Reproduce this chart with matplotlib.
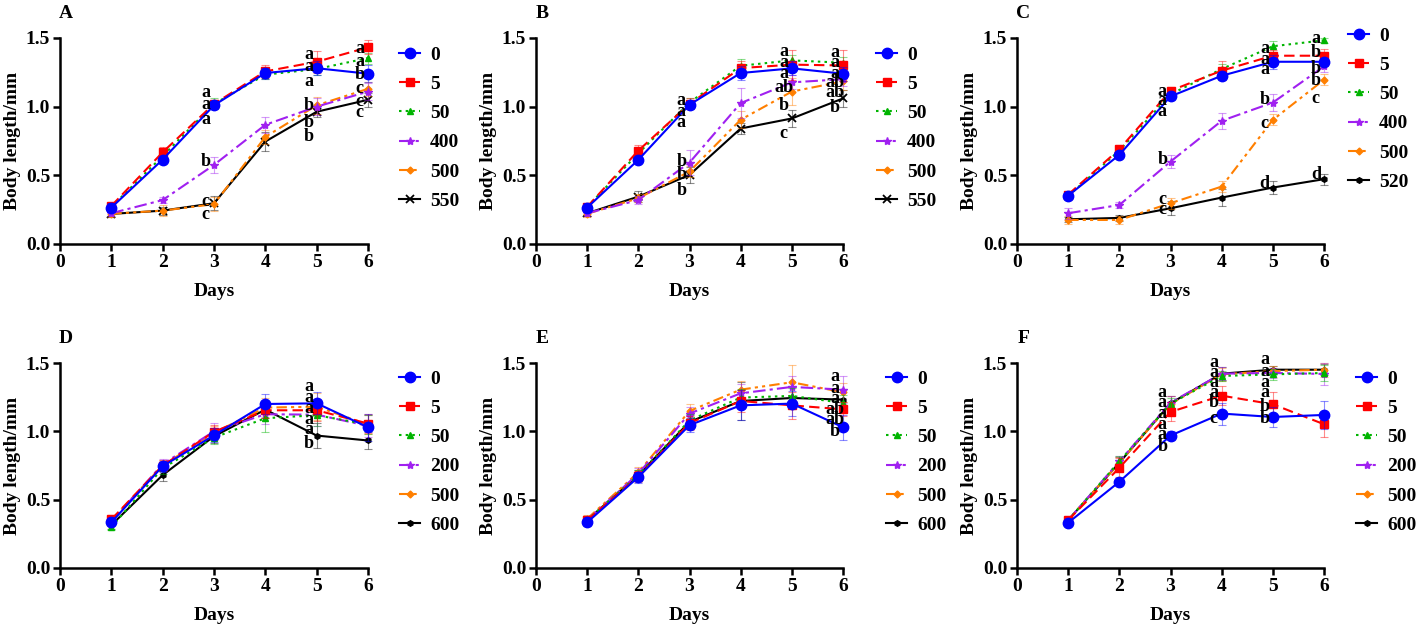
import numpy as np
import matplotlib.pyplot as plt

plt.rcParams['font.family'] = 'serif'
plt.rcParams['font.serif'] = ['Liberation Serif', 'Times New Roman', 'DejaVu Serif']
plt.rcParams['font.weight'] = 'bold'
plt.rcParams['axes.labelweight'] = 'bold'

days = [1, 2, 3, 4, 5, 6]

# concentration labels per panel
conc_A = ['0', '5', '50', '400', '500', '550']
conc_B = ['0', '5', '50', '400', '500', '550']
conc_C = ['0', '5', '50', '400', '500', '520']
conc_D = ['0', '5', '50', '200', '500', '600']
conc_E = ['0', '5', '50', '200', '500', '600']
conc_F = ['0', '5', '50', '200', '500', '600']

# mean body length (mm), one row per concentration
mean_A = [[0.265, 0.615, 1.01, 1.245, 1.28, 1.24],
          [0.277, 0.668, 1.02, 1.257, 1.327, 1.432],
          [0.27, 0.64, 1.02, 1.233, 1.274, 1.354],
          [0.224, 0.32, 0.576, 0.868, 1.0, 1.11],
          [0.22, 0.243, 0.29, 0.78, 1.01, 1.13],
          [0.219, 0.243, 0.297, 0.746, 0.963, 1.05]]
mean_B = [[0.265, 0.613, 1.014, 1.245, 1.279, 1.24],
          [0.27, 0.68, 1.02, 1.281, 1.306, 1.30],
          [0.27, 0.66, 1.03, 1.298, 1.337, 1.32],
          [0.224, 0.32, 0.593, 1.026, 1.177, 1.20],
          [0.22, 0.333, 0.528, 0.905, 1.11, 1.184],
          [0.224, 0.345, 0.503, 0.841, 0.914, 1.06]]
mean_C = [[0.352, 0.649, 1.075, 1.225, 1.327, 1.327],
          [0.36, 0.69, 1.116, 1.262, 1.371, 1.371],
          [0.35, 0.68, 1.09, 1.274, 1.44, 1.483],
          [0.224, 0.284, 0.60, 0.897, 1.03, 1.293],
          [0.175, 0.175, 0.297, 0.418, 0.904, 1.196],
          [0.18, 0.19, 0.26, 0.338, 0.411, 0.472]]
mean_D = [[0.334, 0.745, 0.971, 1.20, 1.205, 1.03],
          [0.355, 0.75, 0.996, 1.154, 1.154, 1.057],
          [0.30, 0.73, 0.954, 1.096, 1.118, 1.05],
          [0.34, 0.76, 1.0, 1.125, 1.122, 1.04],
          [0.35, 0.75, 0.99, 1.174, 1.18, 1.05],
          [0.314, 0.68, 0.964, 1.159, 0.969, 0.933]]
mean_E = [[0.334, 0.665, 1.045, 1.19, 1.203, 1.03],
          [0.35, 0.67, 1.06, 1.222, 1.19, 1.161],
          [0.35, 0.68, 1.08, 1.247, 1.259, 1.208],
          [0.35, 0.69, 1.13, 1.278, 1.325, 1.305],
          [0.36, 0.70, 1.149, 1.305, 1.359, 1.286],
          [0.35, 0.68, 1.069, 1.222, 1.244, 1.232]]
mean_F = [[0.331, 0.631, 0.969, 1.13, 1.105, 1.12],
          [0.35, 0.733, 1.142, 1.261, 1.198, 1.052],
          [0.35, 0.78, 1.203, 1.405, 1.417, 1.427],
          [0.35, 0.78, 1.21, 1.422, 1.427, 1.42],
          [0.35, 0.77, 1.20, 1.417, 1.441, 1.451],
          [0.35, 0.77, 1.205, 1.422, 1.451, 1.451]]

# standard errors
err_A = [[0.03, 0.02, 0.03, 0.04, 0.05, 0.06],
         [0.02, 0.04, 0.03, 0.05, 0.08, 0.05],
         [0.02, 0.03, 0.04, 0.03, 0.04, 0.04],
         [0.02, 0.02, 0.06, 0.06, 0.06, 0.06],
         [0.02, 0.04, 0.05, 0.05, 0.06, 0.05],
         [0.02, 0.03, 0.05, 0.07, 0.04, 0.05]]
err_B = [[0.03, 0.02, 0.03, 0.05, 0.05, 0.05],
         [0.02, 0.04, 0.04, 0.05, 0.11, 0.11],
         [0.02, 0.03, 0.03, 0.05, 0.04, 0.04],
         [0.02, 0.03, 0.09, 0.11, 0.05, 0.05],
         [0.02, 0.03, 0.04, 0.06, 0.10, 0.06],
         [0.02, 0.04, 0.06, 0.04, 0.06, 0.06]]
err_C = [[0.02, 0.02, 0.03, 0.03, 0.05, 0.03],
         [0.02, 0.03, 0.03, 0.07, 0.04, 0.05],
         [0.02, 0.03, 0.03, 0.04, 0.04, 0.02],
         [0.04, 0.02, 0.05, 0.06, 0.06, 0.04],
         [0.03, 0.03, 0.04, 0.04, 0.04, 0.04],
         [0.02, 0.02, 0.05, 0.06, 0.05, 0.04]]
err_D = [[0.03, 0.04, 0.05, 0.07, 0.08, 0.10],
         [0.03, 0.04, 0.05, 0.06, 0.08, 0.07],
         [0.02, 0.04, 0.05, 0.10, 0.08, 0.07],
         [0.03, 0.04, 0.06, 0.07, 0.08, 0.08],
         [0.03, 0.04, 0.05, 0.07, 0.10, 0.07],
         [0.03, 0.04, 0.05, 0.06, 0.09, 0.06]]
err_E = [[0.03, 0.04, 0.05, 0.11, 0.09, 0.09],
         [0.03, 0.04, 0.05, 0.08, 0.10, 0.05],
         [0.03, 0.04, 0.05, 0.06, 0.06, 0.06],
         [0.03, 0.04, 0.05, 0.07, 0.08, 0.10],
         [0.03, 0.04, 0.05, 0.06, 0.13, 0.07],
         [0.03, 0.04, 0.05, 0.14, 0.08, 0.08]]
err_F = [[0.02, 0.02, 0.03, 0.08, 0.07, 0.10],
         [0.03, 0.07, 0.07, 0.07, 0.09, 0.09],
         [0.02, 0.04, 0.04, 0.04, 0.04, 0.06],
         [0.02, 0.04, 0.05, 0.05, 0.04, 0.08],
         [0.02, 0.04, 0.06, 0.05, 0.04, 0.05],
         [0.02, 0.04, 0.05, 0.05, 0.03, 0.04]]

# significance letters: (day, height, letter)
sig_A = [(3, 1.10, 'a'), (3, 1.014, 'a'), (3, 0.904, 'a'), (3, 0.60, 'b'), (3, 0.309, 'c'), (3, 0.212, 'c'),
         (5, 1.379, 'a'), (5, 1.293, 'a'), (5, 1.184, 'a'), (5, 1.007, 'b'), (5, 0.885, 'b'), (5, 0.783, 'b'),
         (6, 1.427, 'a'), (6, 1.33, 'a'), (6, 1.233, 'b'), (6, 1.13, 'c'), (6, 1.038, 'c'), (6, 0.958, 'c')]
sig_B = [(3, 1.043, 'a'), (3, 0.965, 'a'), (3, 0.885, 'a'), (3, 0.60, 'b'), (3, 0.503, 'b'), (3, 0.389, 'b'),
         (5, 1.403, 'a'), (5, 1.323, 'a'), (5, 1.245, 'a'), (5, 1.14, 'ab'), (5, 1.007, 'b'), (5, 0.807, 'c'),
         (6, 1.391, 'a'), (6, 1.318, 'a'), (6, 1.245, 'a'), (6, 1.177, 'ab'), (6, 1.104, 'ab'), (6, 0.997, 'b')]
sig_C = [(3, 1.111, 'a'), (3, 1.043, 'a'), (3, 0.965, 'a'), (3, 0.618, 'b'), (3, 0.321, 'c'), (3, 0.253, 'c'),
         (5, 1.42, 'a'), (5, 1.347, 'a'), (5, 1.269, 'a'), (5, 1.05, 'b'), (5, 0.88, 'c'), (5, 0.442, 'd'),
         (6, 1.495, 'a'), (6, 1.398, 'b'), (6, 1.281, 'b'), (6, 1.189, 'b'), (6, 1.062, 'c'), (6, 0.508, 'd')]
sig_D = [(5, 1.325, 'a'), (5, 1.25, 'a'), (5, 1.167, 'a'), (5, 1.087, 'a'), (5, 1.013, 'a'), (5, 0.91, 'b')]
sig_E = [(6, 1.398, 'a'), (6, 1.312, 'a'), (6, 1.239, 'a'), (6, 1.159, 'ab'), (6, 1.086, 'ab'), (6, 0.996, 'b')]
sig_F = [(3, 1.281, 'a'), (3, 1.208, 'a'), (3, 1.13, 'a'), (3, 1.05, 'a'), (3, 0.977, 'a'), (3, 0.886, 'b'),
         (4, 1.507, 'a'), (4, 1.434, 'a'), (4, 1.354, 'a'), (4, 1.281, 'a'), (4, 1.208, 'b'), (4, 1.093, 'c'),
         (5, 1.524, 'a'), (5, 1.441, 'a'), (5, 1.354, 'a'), (5, 1.281, 'a'), (5, 1.183, 'b'), (5, 1.093, 'b')]

colors = ['#0000ff', '#ff0000', '#00b400', '#a020f0', '#ff7f00', '#000000']
dashes = [None, (5, 2.5), (1.2, 2), (6, 2, 1.5, 2), (5, 2, 1.5, 2, 1.5, 2), None]

W, H = 1418, 627
fig = plt.figure(figsize=(W / 100, H / 100), dpi=100)

# (name, conc, mean, err, sig, axes left/right px, top/bottom px, legend x/y px, last marker)
panels = [('A', conc_A, mean_A, err_A, sig_A, 60, 368, 38, 244, 399, 46, 'x'),
          ('B', conc_B, mean_B, err_B, sig_B, 536, 843, 38, 244, 876, 46, 'x'),
          ('C', conc_C, mean_C, err_C, sig_C, 1017, 1324, 38, 244, 1348, 27, 'h'),
          ('D', conc_D, mean_D, err_D, sig_D, 60, 368, 363, 568, 399, 370, 'h'),
          ('E', conc_E, mean_E, err_E, sig_E, 536, 843, 363, 568, 886, 370, 'h'),
          ('F', conc_F, mean_F, err_F, sig_F, 1017, 1324, 363, 568, 1356, 370, 'h')]

for name, conc, mean, err, sig, x0, x1, y0, y1, lx, ly, lastm in panels:
    ax = fig.add_axes([x0 / W, 1 - y1 / H, (x1 - x0) / W, (y1 - y0) / H])
    markers = ['o', 's', '^', '*', 'D', lastm]
    msizes = [7.5, 5.5, 5, 6, 3.5, 6 if lastm == 'x' else 4]
    handles = []
    for i in range(5, -1, -1):
        eb = ax.errorbar(days, mean[i], yerr=err[i], color=colors[i], ecolor=colors[i],
                         elinewidth=0.8, capsize=3, capthick=0.8, zorder=3 + (6 - i),
                         clip_on=False)
        for c in eb[1]:
            c.set_alpha(0.45)
        for c in eb[2]:
            c.set_alpha(0.45)
            c.set_clip_on(False)
        ln = eb[0]
        ln.set_marker(markers[i])
        ln.set_markersize(msizes[i])
        ln.set_linewidth(1.5)
        if markers[i] == 'x':
            ln.set_markeredgewidth(1.3)
        if dashes[i] is not None:
            ln.set_dashes(dashes[i])
        handles.insert(0, ln)
    for d, yv, txt in sig:
        ax.text(d - 0.16, yv, txt, ha='center', va='center', fontsize=13,
                fontweight='bold', zorder=20)
    ax.set_xlim(0, 6)
    ax.set_ylim(0, 1.5)
    ax.set_xticks([0, 1, 2, 3, 4, 5, 6])
    ax.set_yticks([0.0, 0.5, 1.0, 1.5])
    ax.set_yticklabels(['0.0', '0.5', '1.0', '1.5'])
    for s in ['top', 'right']:
        ax.spines[s].set_visible(False)
    for s in ['left', 'bottom']:
        ax.spines[s].set_linewidth(1.8)
    ax.tick_params(direction='out', length=5, width=1.8, labelsize=14, pad=2)
    ax.set_xlabel('Days', fontsize=14)
    ax.set_ylabel('Body length/mm', fontsize=14)
    ax.xaxis.set_label_coords(0.5, -0.19)
    ax.yaxis.set_label_coords(-0.128, 0.5)
    ax.text(0.02, 1.12, name, transform=ax.transAxes, ha='center', va='center',
            fontsize=14, fontweight='bold')
    ax.legend(handles, conc, loc='upper left', frameon=False,
              bbox_to_anchor=(lx / W, 1 - ly / H), bbox_transform=fig.transFigure,
              borderpad=0, handlelength=1.1, handletextpad=0.5, labelspacing=0.6,
              fontsize=14, borderaxespad=0)

fig.savefig('out.png', dpi=100)
